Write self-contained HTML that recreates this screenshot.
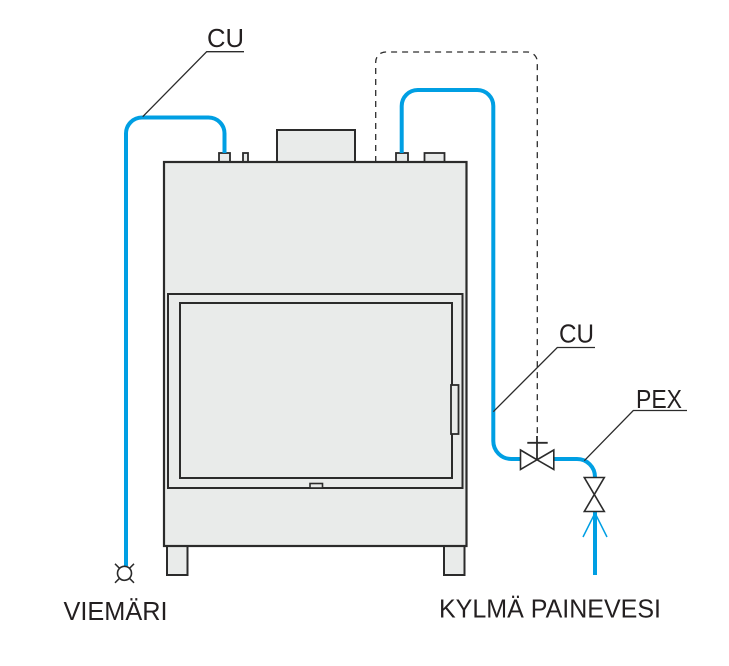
<!DOCTYPE html>
<html>
<head>
<meta charset="utf-8">
<style>
html,body{margin:0;padding:0;background:#fff;}
svg{display:block;}
text{font-family:"Liberation Sans",sans-serif;fill:#231f20;}
</style>
</head>
<body>
<svg width="729" height="666" viewBox="0 0 729 666" xmlns="http://www.w3.org/2000/svg">
  <!-- dashed line -->
  <path d="M375.7,162 V62 A10,10 0 0 1 385.7,52 H527.3 A10,10 0 0 1 537.3,62 V436" fill="none" stroke="#2d2d2d" stroke-width="1.3" stroke-dasharray="6,5"/>

  <!-- top box -->
  <rect x="277" y="130" width="78" height="32" fill="#e9ebea" stroke="#2b2b2b" stroke-width="2"/>
  <!-- small connectors -->
  <rect x="219" y="153" width="11" height="9" fill="#e9ebea" stroke="#2b2b2b" stroke-width="1.8"/>
  <rect x="243" y="153" width="5" height="9" fill="#e9ebea" stroke="#2b2b2b" stroke-width="1.8"/>
  <rect x="396" y="153" width="12" height="9" fill="#e9ebea" stroke="#2b2b2b" stroke-width="1.8"/>
  <rect x="424.5" y="153" width="20" height="9" fill="#e9ebea" stroke="#2b2b2b" stroke-width="1.8"/>

  <!-- legs -->
  <rect x="167" y="546" width="20.5" height="29" fill="#e9ebea" stroke="#2b2b2b" stroke-width="2"/>
  <rect x="444" y="546" width="20.5" height="29" fill="#e9ebea" stroke="#2b2b2b" stroke-width="2"/>

  <!-- body -->
  <rect x="164" y="162" width="302.5" height="384" fill="#e9ebea" stroke="#2b2b2b" stroke-width="2.2"/>
  <!-- door frame -->
  <rect x="168" y="294" width="294.5" height="194" fill="#e9ebea" stroke="#2b2b2b" stroke-width="2"/>
  <rect x="180" y="303" width="272" height="175" fill="#e9ebea" stroke="#2b2b2b" stroke-width="2"/>
  <!-- handle -->
  <rect x="451" y="385" width="7.5" height="49" fill="#e9ebea" stroke="#2b2b2b" stroke-width="1.8"/>
  <!-- small tab -->
  <rect x="310" y="483.5" width="12.5" height="4.5" fill="#e9ebea" stroke="#2b2b2b" stroke-width="1.6"/>

  <!-- blue pipes -->
  <g fill="none" stroke="#009fe3" stroke-width="4">
    <path d="M126,566 V133.5 A16,16 0 0 1 142,117.5 H208.5 A16,16 0 0 1 224.5,133.5 V153"/>
    <path d="M401.7,153 V106 A16,16 0 0 1 417.7,90 H477.3 A16,16 0 0 1 493.3,106 V441 A18,18 0 0 0 511.3,459 H521"/>
    <path d="M553,459 H577 A18,18 0 0 1 595,477 V478"/>
    <path d="M595,511 V575"/>
  </g>
  <!-- arrow chevron -->
  <path d="M583,537 L595,513 L607,537" fill="none" stroke="#009fe3" stroke-width="1.5"/>

  <!-- valve 1 -->
  <path d="M520.5,450 L537,459.8 L520.5,469.5 Z M553.8,450 L537,459.8 L553.8,469.5 Z" fill="#fff" stroke="#2b2b2b" stroke-width="1.6" stroke-linejoin="miter"/>
  <path d="M537,459.8 V436 M527.3,442.8 H547.7" fill="none" stroke="#2b2b2b" stroke-width="1.8"/>

  <!-- valve 2 -->
  <path d="M584.3,477.5 L604.3,477.5 L594.3,494.5 Z M584.3,511.5 L604.3,511.5 L594.3,494.5 Z" fill="#fff" stroke="#2b2b2b" stroke-width="1.6"/>

  <!-- drain symbol -->
  <circle cx="124.5" cy="573.3" r="7" fill="#fff" stroke="#2b2b2b" stroke-width="1.6"/>
  <path d="M119.5,568.3 L115,563.8 M129.5,568.3 L134,563.8 M119.5,578.3 L115,582.8 M129.5,578.3 L134,582.8" stroke="#2b2b2b" stroke-width="1.5"/>

  <!-- leaders -->
  <g fill="none" stroke="#2b2b2b" stroke-width="1.3">
    <path d="M142.7,116.7 L206.7,51.7 H244"/>
    <path d="M493.3,411.7 L557.3,347.5 H595"/>
    <path d="M584.3,460.7 L633.3,410.5 H687"/>
  </g>

  <!-- labels -->
  <text x="207" y="47" font-size="26" textLength="37" lengthAdjust="spacingAndGlyphs">CU</text>
  <text x="559" y="342.3" font-size="26" textLength="35" lengthAdjust="spacingAndGlyphs">CU</text>
  <text x="636" y="408" font-size="26" textLength="46" lengthAdjust="spacingAndGlyphs">PEX</text>
  <text x="63.5" y="620" font-size="26" textLength="104" lengthAdjust="spacingAndGlyphs">VIEMÄRI</text>
  <text x="439" y="617.5" font-size="26" textLength="222" lengthAdjust="spacingAndGlyphs">KYLMÄ PAINEVESI</text>
</svg>
</body>
</html>
